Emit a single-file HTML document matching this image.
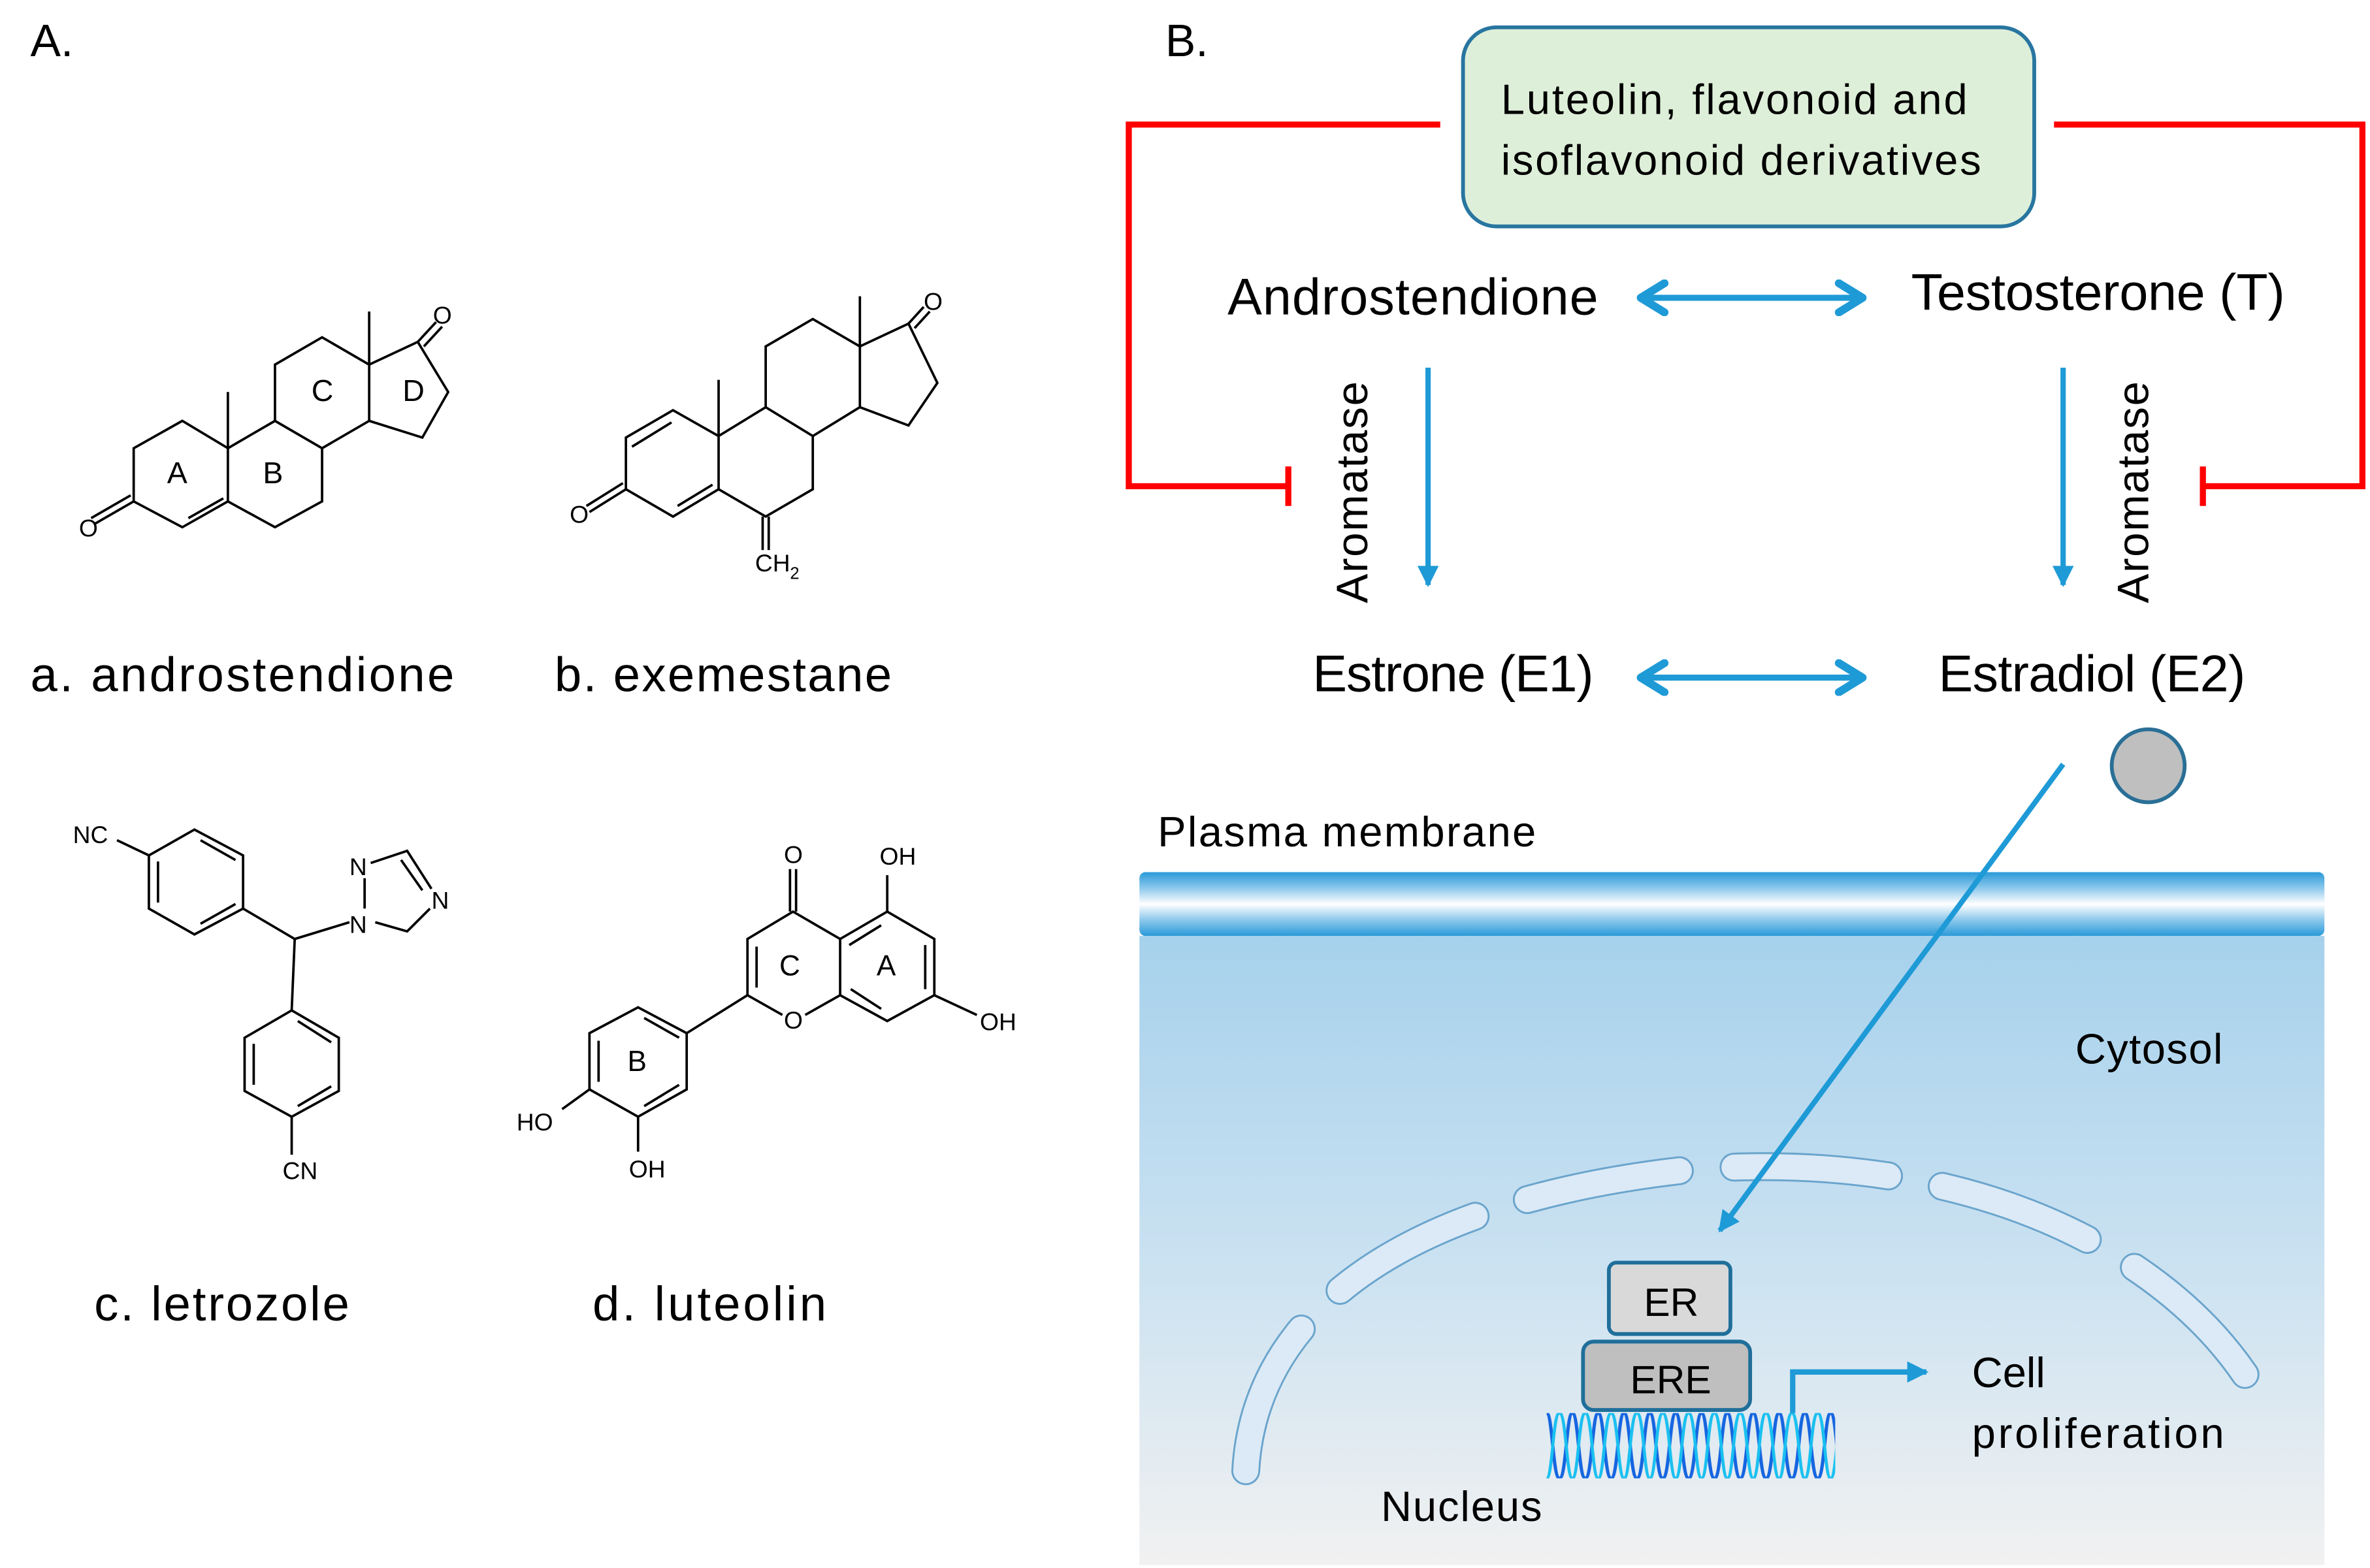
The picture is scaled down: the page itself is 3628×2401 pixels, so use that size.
<!DOCTYPE html>
<html><head><meta charset="utf-8"><style>
html,body{margin:0;padding:0;background:#fff;}
svg{display:block;}
text{font-family:"Liberation Sans",sans-serif;fill:#000;}
</style></head><body>
<svg width="3628" height="2401" viewBox="0 0 1560 1032" preserveAspectRatio="none" xmlns="http://www.w3.org/2000/svg">
<defs>
<linearGradient id="cyt" x1="0" y1="0" x2="0" y2="1">
<stop offset="0" stop-color="#a6d1ec"/><stop offset="0.5" stop-color="#c9e1f1"/><stop offset="1" stop-color="#f1f1f1"/>
</linearGradient>
<linearGradient id="mem" x1="0" y1="0" x2="0" y2="1">
<stop offset="0" stop-color="#2a9ad8"/><stop offset="0.25" stop-color="#8cc8ec"/><stop offset="0.5" stop-color="#ffffff"/><stop offset="0.75" stop-color="#8cc8ec"/><stop offset="1" stop-color="#2a9ad8"/>
</linearGradient>
<marker id="ah" viewBox="0 0 10 10" refX="8" refY="5" markerWidth="6" markerHeight="6" orient="auto-start-reverse">
<path d="M1.5,1 L8,5 L1.5,9" fill="none" stroke="#1e9ad6" stroke-width="2.2" stroke-linecap="round" stroke-linejoin="round"/>
</marker>
<marker id="tri" viewBox="0 0 10 10" refX="9" refY="5" markerWidth="4" markerHeight="5" orient="auto">
<path d="M0,0 L10,5 L0,10 Z" fill="#1e9ad6"/>
</marker>
<pattern id="dna" x="1018" y="930" width="17" height="43" patternUnits="userSpaceOnUse">
<path d="M0,0 C4,0 4,43 8.5,43 C13,43 13,0 17,0" fill="none" stroke="#1565e0" stroke-width="2.2"/>
<path d="M0,43 C4,43 4,0 8.5,0 C13,0 13,43 17,43" fill="none" stroke="#19c0f0" stroke-width="2"/>
</pattern>
</defs>

<text x="20" y="37" font-size="30">A.</text>
<g fill="none" stroke="#000" stroke-width="1.6">
<path d="M88,295 L120,277 L150,295 L150,330 L120,347 L88,330 Z"/>
<path d="M124,341 L147,328"/>
<path d="M88,330 L62,345 M86,326 L60,341"/>
<path d="M150,295 L181,277 L212,295 L212,330 L181,347 L150,330"/>
<path d="M150,295 L150,258"/>
<path d="M181,277 L181,240 L212,222 L243,240 L243,277 L212,295"/>
<path d="M243,240 L275,225 L295,258 L278,288 L243,277"/>
<path d="M243,240 L243,205"/>
<path d="M275,225 L287,212 M279,228 L291,215"/>
<path d="M412,288 L443,270 L473,287 L473,322 L443,340 L412,322 Z"/>
<path d="M416,294 L442,278 M446,333 L469,319"/>
<path d="M412,322 L388,337 M410,318 L386,333"/>
<path d="M473,287 L504,268 L535,287 L535,322 L504,340 L473,322"/>
<path d="M473,287 L473,250"/>
<path d="M502,340 L502,362 M506,340 L506,362"/>
<path d="M504,268 L504,228 L535,210 L566,228 L566,268 L535,287"/>
<path d="M566,228 L598,213 L617,252 L598,280 L566,268"/>
<path d="M566,228 L566,195"/>
<path d="M598,213 L608,202 M602,216 L612,205"/>
<path d="M98,563 L128,546 L160,563 L160,598 L128,615 L98,598 Z"/>
<path d="M104,567 L104,594 M132,553 L155,566 M132,608 L155,595"/>
<path d="M98,563 L77,553"/>
<path d="M160,598 L194,618 L230,607"/>
<path d="M194,618 L192,665"/>
<path d="M192,665 L223,683 L223,718 L192,735 L161,718 L161,683 Z"/>
<path d="M167,687 L167,714 M196,672 L218,686 M196,728 L218,715"/>
<path d="M192,735 L192,760"/>
<path d="M240,598 L240,578 M244,568 L268,560 L284,585 M283,598 L268,613 L247,607"/>
<path d="M264,566 L278,586"/>
<path d="M420,663 L452,680 L452,717 L420,735 L388,717 L388,680 Z"/>
<path d="M394,685 L394,712 M424,670 L447,683 M424,728 L447,714"/>
<path d="M388,717 L370,730 M420,735 L420,758"/>
<path d="M452,680 L492,655"/>
<path d="M492,655 L492,618 L522,600 L553,618 L553,655 L530,668 M515,668 L492,655"/>
<path d="M498,650 L498,623"/>
<path d="M520,600 L520,572 M524,600 L524,572"/>
<path d="M553,618 L584,600 L615,618 L615,655 L584,672 L553,655"/>
<path d="M559,622 L580,609 M609,622 L609,651 M560,651 L580,664"/>
<path d="M584,600 L584,576 M615,655 L643,668"/>
</g>
<g font-size="16">
<text x="110" y="318" font-size="20">A</text>
<text x="173" y="318" font-size="20">B</text>
<text x="205" y="264" font-size="20">C</text>
<text x="265" y="264" font-size="20">D</text>
<text x="52" y="353">O</text>
<text x="285" y="213">O</text>
<text x="375" y="344">O</text>
<text x="608" y="204">O</text>
<text x="497" y="376">CH</text><text x="520" y="381" font-size="11">2</text>
<text x="48" y="555">NC</text>
<text x="230" y="576">N</text>
<text x="230" y="614">N</text>
<text x="284" y="598">N</text>
<text x="186" y="776">CN</text>
<text x="516" y="568">O</text>
<text x="579" y="569">OH</text>
<text x="645" y="678">OH</text>
<text x="516" y="677">O</text>
<text x="340" y="744">HO</text>
<text x="414" y="775">OH</text>
<text x="513" y="642" font-size="19">C</text>
<text x="577" y="642" font-size="19">A</text>
<text x="413" y="705" font-size="19">B</text>
</g>
<text x="20" y="455" font-size="32" textLength="279">a. androstendione</text>
<text x="365" y="455" font-size="32" textLength="222">b. exemestane</text>
<text x="62" y="869" font-size="32" textLength="168">c. letrozole</text>
<text x="390" y="869" font-size="32" textLength="154">d. luteolin</text>

<text x="767" y="37" font-size="30">B.</text>
<rect x="963" y="18" width="376" height="131" rx="22" fill="#deefd9" stroke="#2876a0" stroke-width="2.5"/>
<text x="988" y="75" font-size="28" textLength="307">Luteolin, flavonoid and</text>
<text x="988" y="115" font-size="28" textLength="316">isoflavonoid derivatives</text>
<g fill="none" stroke="#ff0000" stroke-width="4">
<path d="M948,82 L743,82 L743,320 L848,320"/>
<path d="M848,307 L848,333"/>
<path d="M1352,82 L1555,82 L1555,320 L1450,320"/>
<path d="M1450,307 L1450,333"/>
</g>
<text x="808" y="207" font-size="34" textLength="244">Androstendione</text>
<text x="1258" y="204" font-size="34" textLength="246">Testosterone (T)</text>
<text x="864" y="455" font-size="34" textLength="185">Estrone (E1)</text>
<text x="1276" y="455" font-size="34" textLength="202">Estradiol (E2)</text>
<g stroke="#1e9ad6" stroke-width="4" fill="none">
<line x1="1080" y1="196" x2="1226" y2="196" marker-start="url(#ah)" marker-end="url(#ah)"/>
<line x1="1080" y1="446" x2="1226" y2="446" marker-start="url(#ah)" marker-end="url(#ah)"/>
<line x1="940" y1="242" x2="940" y2="385" stroke-width="3.5" marker-end="url(#tri)"/>
<line x1="1358" y1="242" x2="1358" y2="385" stroke-width="3.5" marker-end="url(#tri)"/>
</g>
<text transform="translate(900,397) rotate(-90)" font-size="29" textLength="146">Aromatase</text>
<text transform="translate(1414,397) rotate(-90)" font-size="29" textLength="146">Aromatase</text>

<rect x="750" y="616" width="780" height="414" fill="url(#cyt)"/>
<rect x="750" y="574" width="780" height="42" rx="4" fill="url(#mem)"/>
<text x="762" y="557" font-size="28" textLength="249">Plasma membrane</text>
<text x="1366" y="700" font-size="28" textLength="97">Cytosol</text>
<circle cx="1414" cy="504" r="24" fill="#bfbfbf" stroke="#2a6f96" stroke-width="2.5"/>
<g fill="none" stroke-linecap="round">
<path d="M820,968 C826,860 930,790 1110,770 C1290,755 1420,820 1478,905" stroke="#6aa4cc" stroke-width="19" stroke-dasharray="102 36"/>
<path d="M820,968 C826,860 930,790 1110,770 C1290,755 1420,820 1478,905" stroke="#dbeaf6" stroke-width="16.5" stroke-dasharray="102 36"/>
</g>
<line x1="1358" y1="503" x2="1132" y2="810" stroke="#1e9ad6" stroke-width="3.5" marker-end="url(#tri)"/>
<rect x="1059" y="831" width="80" height="47" rx="5" fill="#d9d9d9" stroke="#1f6f9a" stroke-width="2.5"/>
<text x="1082" y="866" font-size="26">ER</text>
<rect x="1042" y="883" width="110" height="45" rx="7" fill="#bfbfbf" stroke="#1f6f9a" stroke-width="2.5"/>
<text x="1073" y="917" font-size="26">ERE</text>
<rect x="1018" y="930" width="190" height="43" fill="url(#dna)"/>
<path d="M1180,930 L1180,903 L1268,903" fill="none" stroke="#1e9ad6" stroke-width="3.5" marker-end="url(#tri)"/>
<text x="1298" y="913" font-size="28">Cell</text>
<text x="1298" y="953" font-size="28" textLength="166">proliferation</text>
<text x="909" y="1001" font-size="28" textLength="106">Nucleus</text>
</svg>
</body></html>
